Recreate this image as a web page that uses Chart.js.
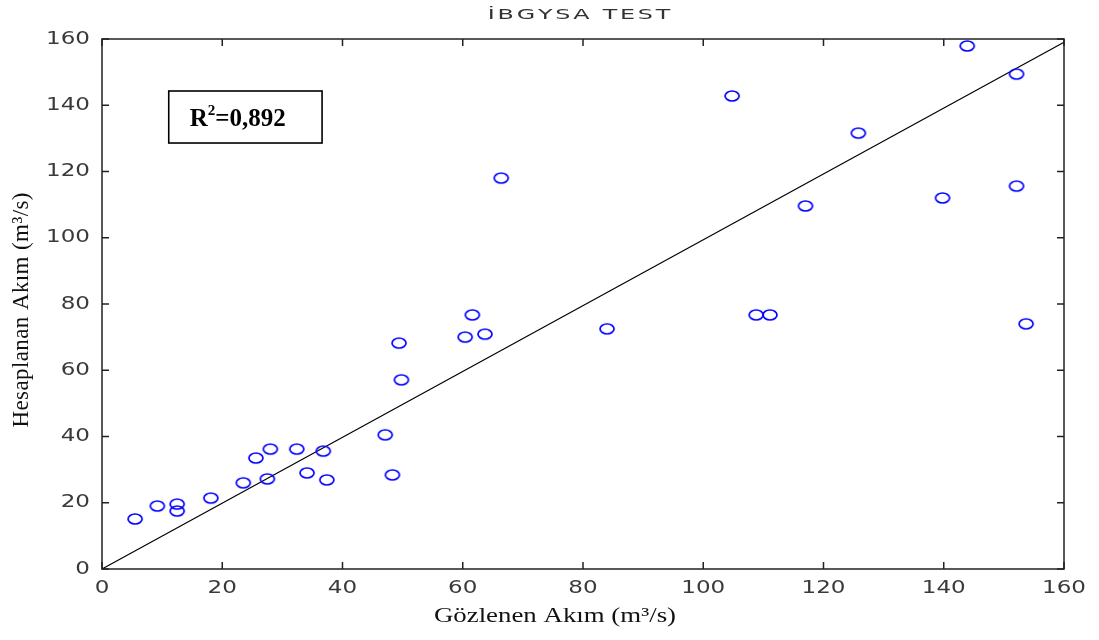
<!DOCTYPE html>
<html><head><meta charset="utf-8">
<script src="https://cdn.jsdelivr.net/npm/chart.js@4/dist/chart.umd.min.js"></script>
<style>html,body{margin:0;padding:0;background:#fff;}#wrap{width:1099px;height:640px;}</style>
</head><body><div id="wrap"><canvas id="c" width="1099" height="640"></canvas></div>
<script>
// Observed (Gözlenen) and computed (Hesaplanan) flows, m3/s
const observed = [5.5,9.2,12.5,12.5,18.1,23.5,25.6,27.5,28.0,32.4,34.1,36.8,37.4,47.1,48.3,49.4,49.8,60.4,61.6,63.7,66.4,84.0,104.8,108.8,111.1,117.0,125.8,139.8,143.9,152.1,152.1,153.7];
const computed = [15.1,19.0,19.6,17.5,21.4,26.0,33.5,27.2,36.2,36.2,29.0,35.6,26.9,40.5,28.4,68.2,57.1,70.0,76.7,70.9,118.0,72.5,142.8,76.7,76.7,109.6,131.6,112.0,157.9,149.4,115.6,74.0];
const fitX = [0,160];
const fitY = [0,159];
const xTicks = [0,20,40,60,80,100,120,140,160];
const yTicks = [0,20,40,60,80,100,120,140,160];
const titleText = 'İBGYSA TEST';
const xTitle = 'Gözlenen Akım (m³/s)';
const yTitle = 'Hesaplanan Akım (m³/s)';
const r2Text = ['R','2','=0,892'];

// ellipse marker
const mk = document.createElement('canvas');
mk.width = 18; mk.height = 14;
(function(){const g=mk.getContext('2d');g.strokeStyle='#0000ff';g.lineWidth=1.7;g.beginPath();g.ellipse(9,7,7,5,0,0,Math.PI*2);g.stroke();})();

function wideText(ctx,text,x,y,align,sx,ls){
  ctx.save();
  ctx.textAlign='left';
  const chars=[...text];
  const ws=chars.map(c=>ctx.measureText(c).width*sx);
  const w=ws.reduce((a,b)=>a+b,0)+ls*(chars.length-1);
  let cx = align==='center'? x-w/2 : align==='right'? x-w : x;
  chars.forEach((c,i)=>{
    ctx.save(); ctx.translate(cx,y); ctx.scale(sx,1); ctx.fillText(c,0,0); ctx.restore();
    cx+=ws[i]+ls;
  });
  ctx.restore();
}

const frame = {
  id:'frame',
  afterDraw(chart){
    const ctx=chart.ctx, a=chart.chartArea, xs=chart.scales.x, ys=chart.scales.y;
    ctx.save();
    ctx.strokeStyle='#222'; ctx.lineWidth=1.5;
    ctx.strokeRect(a.left,a.top,a.right-a.left,a.bottom-a.top);
    ctx.beginPath();
    xTicks.forEach(v=>{const p=xs.getPixelForValue(v);ctx.moveTo(p,a.bottom);ctx.lineTo(p,a.bottom-7);ctx.moveTo(p,a.top);ctx.lineTo(p,a.top+7);});
    yTicks.forEach(v=>{const p=ys.getPixelForValue(v);ctx.moveTo(a.left,p);ctx.lineTo(a.left+7,p);ctx.moveTo(a.right,p);ctx.lineTo(a.right-7,p);});
    ctx.stroke();
    // tick labels
    ctx.fillStyle='#3a3a3a'; ctx.font='18px "DejaVu Sans"'; ctx.textBaseline='middle';
    xTicks.forEach(v=>wideText(ctx,String(v),xs.getPixelForValue(v),a.bottom+19,'center',1.28,0));
    yTicks.forEach(v=>wideText(ctx,String(v),a.left-12,ys.getPixelForValue(v),'right',1.28,0));
    // title
    ctx.fillStyle='#333'; ctx.font='14px "DejaVu Sans"';
    wideText(ctx,titleText,579,15,'center',1.7,2.8);
    // axis titles
    ctx.fillStyle='#111'; ctx.font='22px "Liberation Serif"'; ctx.textBaseline='alphabetic';
    wideText(ctx,xTitle,555,622,'center',1.22,0);
    ctx.save(); ctx.translate(28,310); ctx.rotate(-Math.PI/2);
    ctx.font='23px "Liberation Serif"';
    wideText(ctx,yTitle,0,0,'center',1.0,0.4);
    ctx.restore();
    // R2 box
    const bx1=xs.getPixelForValue(11.1), bx2=xs.getPixelForValue(36.6), by1=ys.getPixelForValue(144.3), by2=ys.getPixelForValue(128.6);
    ctx.strokeStyle='#000'; ctx.lineWidth=1.6;
    ctx.strokeRect(bx1,by1,bx2-bx1,by2-by1);
    ctx.fillStyle='#000'; ctx.textAlign='left'; ctx.textBaseline='alphabetic';
    ctx.font='bold 25px "Liberation Serif"';
    let tx=bx1+21, ty=by1+35;
    ctx.fillText(r2Text[0],tx,ty); tx+=ctx.measureText(r2Text[0]).width;
    ctx.font='bold 15px "Liberation Serif"';
    ctx.fillText(r2Text[1],tx,ty-11); tx+=ctx.measureText(r2Text[1]).width;
    ctx.font='bold 25px "Liberation Serif"';
    ctx.fillText(r2Text[2],tx,ty);
    ctx.restore();
  }
};

new Chart(document.getElementById('c'),{
  data:{datasets:[
    {type:'line',data:fitX.map((x,i)=>({x,y:fitY[i]})),borderColor:'#000',borderWidth:1.2,pointRadius:0,fill:false,clip:false,order:2},
    {type:'scatter',data:observed.map((x,i)=>({x,y:computed[i]})),pointStyle:mk,pointRadius:7,clip:false,order:1}
  ]},
  options:{
    responsive:false,animation:false,devicePixelRatio:1,
    layout:{padding:{top:39,right:35,left:0,bottom:0}},
    plugins:{legend:{display:false},tooltip:{enabled:false},title:{display:false}},
    scales:{
      x:{type:'linear',min:0,max:160,
        afterBuildTicks(s){s.ticks=xTicks.map(v=>({value:v}));},
        afterFit(s){s.height=71;},
        grid:{display:false,drawTicks:false},border:{display:false},
        ticks:{display:false}},
      y:{type:'linear',min:0,max:160,
        afterBuildTicks(s){s.ticks=yTicks.map(v=>({value:v}));},
        afterFit(s){s.width=102;},
        grid:{display:false,drawTicks:false},border:{display:false},
        ticks:{display:false}}
    }
  },
  plugins:[frame]
});
</script></body></html>
